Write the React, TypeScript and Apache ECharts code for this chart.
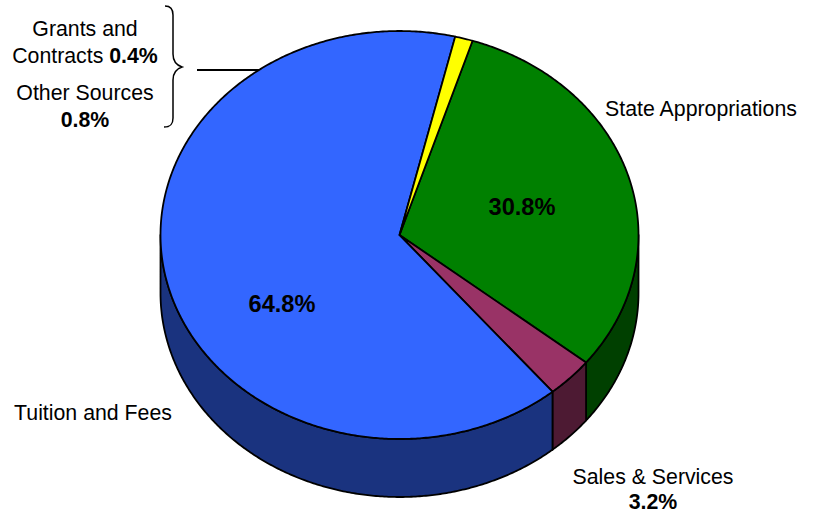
import React, { useEffect, useRef } from "react";
import * as echarts from "echarts";

const categories = ["State Appropriations", "Sales & Services", "Tuition and Fees", "Grants and Contracts / Other Sources"];
const values = [30.8, 3.2, 64.8, 1.2];
const topColors = ["#008000", "#993366", "#3366FF", "#FFFF00"];
const sideColors = ["#004000", "#4D1A33", "#1A337F", "#808000"];
const startAngleDeg = 17.8;

const CX = 399.5, CY = 235, RX = 239, RY = 204, DEPTH = 58;
const FONT = '"Liberation Sans", Arial, sans-serif';

const pt = (deg: number, dy = 0): number[] => {
  const a = (deg * Math.PI) / 180;
  return [CX + RX * Math.sin(a), CY - RY * Math.cos(a) + dy];
};
const arcPoints = (from: number, to: number, dy = 0): number[][] => {
  const n = Math.max(2, Math.ceil(Math.abs(to - from) * 2));
  const out: number[][] = [];
  for (let k = 0; k <= n; k++) out.push(pt(from + ((to - from) * k) / n, dy));
  return out;
};

const total = values.reduce((a, b) => a + b, 0);
const spans: number[][] = [];
{
  let acc = startAngleDeg;
  for (const v of values) {
    const next = acc + (v / total) * 360;
    spans.push([acc, next]);
    acc = next;
  }
}

function renderSlice(params: any) {
  const i = params.dataIndex;
  const [s, e] = spans[i];
  const children: any[] = [];
  // wall: the visible front half runs from 90 to 270 degrees
  const ws = Math.max(s, 90), we = Math.min(e, 270);
  const stroke = { stroke: "#000", lineWidth: 1.8, lineJoin: "round" };
  if (ws < we) {
    children.push({
      type: "polygon",
      z2: 1,
      shape: { points: [...arcPoints(ws, we), ...arcPoints(we, ws, DEPTH)] },
      style: { fill: sideColors[i], ...stroke },
    });
  }
  children.push({
    type: "polygon",
    z2: 2,
    shape: { points: [[CX, CY], ...arcPoints(s, e)] },
    style: { fill: topColors[i], ...stroke },
  });
  return { type: "group", children };
}

const braceD =
  "M 165 6 C 171 6 173 9 173 15 L 173 54 C 173 61 176 65 182 67 C 176 69 173 73 173 80 L 173 118 C 173 124 171 127 164 127";

const grantsLabel = "{r|Grants and}\n{r|Contracts }{b|0.4%}";
const otherLabel = "{r|Other Sources}\n{b|0.8%}";
const salesName = "Sales & Services";
const salesPct = "3.2%";
const stateLabel = "State Appropriations";
const tuitionLabel = "Tuition and Fees";
const statePct = "30.8%";
const tuitionPct = "64.8%";

const rich = {
  r: { fontFamily: FONT, fontSize: 21.3, fill: "#000", lineHeight: 27 },
  b: { fontFamily: FONT, fontSize: 21.3, fontWeight: "bold", fill: "#000", lineHeight: 27 },
};
const label = (x: number, y: number, text: string, align = "center") => ({
  type: "text",
  x,
  y,
  z: 10,
  style: { text, x: 0, y: 0, align, verticalAlign: "middle", rich, fontFamily: FONT, fontSize: 21.3, fill: "#000" },
});
const plain = (x: number, y: number, text: string, bold = false, size = 21.3) => ({
  type: "text",
  x,
  y,
  z: 10,
  style: {
    text,
    align: "center",
    verticalAlign: "middle",
    fontFamily: FONT,
    fontSize: size,
    fontWeight: bold ? "bold" : "normal",
    fill: "#000",
  },
});

export default function App() {
  const ref = useRef<HTMLDivElement>(null);
  useEffect(() => {
    echarts.graphic.registerShape("brace", echarts.graphic.extendPath(braceD as any, {}) as any);
    const chart = echarts.init(ref.current!, undefined, { renderer: "svg" });
    chart.setOption({
      animation: false,
      backgroundColor: "#fff",
      series: [
        {
          type: "custom",
          coordinateSystem: "none",
          clip: false,
          data: values.map((v, i) => ({ name: categories[i], value: v })),
          renderItem: renderSlice,
        },
      ],
      graphic: [
        {
          type: "group",
          z: 10,
          children: [
            { type: "brace", x: 0, y: 0, style: { fill: "none", stroke: "#000", lineWidth: 1.5 } },
            { type: "line", shape: { x1: 197, y1: 70, x2: 265, y2: 70 }, style: { stroke: "#000", lineWidth: 2 } },
          ],
        },
        label(85, 42, grantsLabel),
        label(85, 106, otherLabel),
        plain(653, 477, salesName),
        plain(653, 502, salesPct, true),
        plain(701, 108.5, stateLabel),
        plain(93, 413, tuitionLabel),
        plain(522, 207, statePct, true, 23.6),
        plain(282, 304, tuitionPct, true, 23.6),
      ],
    });
    return () => chart.dispose();
  }, []);
  return <div ref={ref} style={{ position: "absolute", left: 0, top: 0, width: 814, height: 513 }} />;
}
